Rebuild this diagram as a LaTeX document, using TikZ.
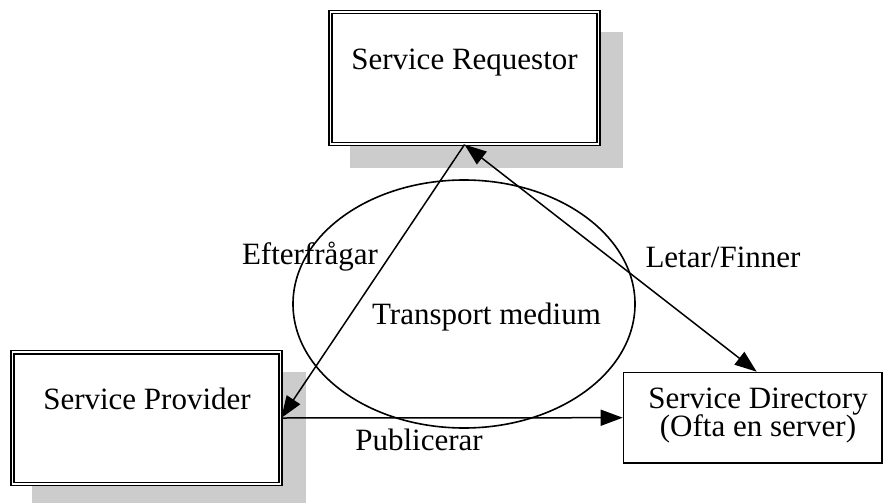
\documentclass[tikz,border=0pt]{standalone}
\usepackage{fontspec}
\setmainfont{Liberation Serif}
\usetikzlibrary{arrows.meta,shapes.geometric}
\definecolor{shadowgray}{RGB}{204,204,204}
\tikzset{
  txt/.style={inner sep=0pt, anchor=base, font=\fontsize{31}{34}\selectfont},
  dblbox/.style={draw, double, line width=1.5pt, double distance=1.6pt, fill=white,
    minimum width=268pt, minimum height=131.6pt, inner sep=0pt},
  sglbox/.style={draw, line width=1.5pt, fill=white,
    minimum width=258.5pt, minimum height=90.5pt, inner sep=0pt},
  shade/.style={fill=shadowgray},
  conn/.style={line width=1.5pt},
  wtip/.tip={Triangle[length=22pt,width=16pt]},
}
\begin{document}
\begin{tikzpicture}[x=1pt,y=-1pt]
\useasboundingbox (0,0) rectangle (883,503);
% grey shadows behind the two double-framed boxes
\fill[shade] (350,32) rectangle (623,168);
\fill[shade] (32,372) rectangle (306,508);
% transport medium
\node[draw, ellipse, line width=1.6pt, minimum width=342pt, minimum height=248pt, inner sep=0pt] (medium) at (464,304) {};
\node[txt] (mediumtext) at (486.5,324) {Transport medium};
% boxes
\node[dblbox] (req) at (464.5,78) {};
\node[txt] (reqtext) at (464.5,70) {Service Requestor};
\node[dblbox] (prov) at (146.5,418) {};
\node[txt] (provtext) at (147,409) {Service Provider};
\node[sglbox] (dir) at (752.7,417.7) {};
\node[txt] (dirtext) at (758,408) {Service Directory};
\node[txt] (dirnote) at (758,436) {(Ofta en server)};
% connectors
\coordinate (reqfoot) at (req.south);
\coordinate (dirtop) at ([xshift=4pt]dir.north);
\draw[conn, -wtip] (reqfoot) -- (prov.east);
\draw[conn, wtip-wtip] (reqfoot) -- (dirtop);
\draw[conn, -wtip] (prov.east) -- (dir.west);
% connector labels
\node[txt] (asks) at (310,264) {Efterfrågar};
\node[txt] (finds) at (723,267) {Letar/Finner};
\node[txt] (pub) at (419,450) {Publicerar};
\end{tikzpicture}
\end{document}
